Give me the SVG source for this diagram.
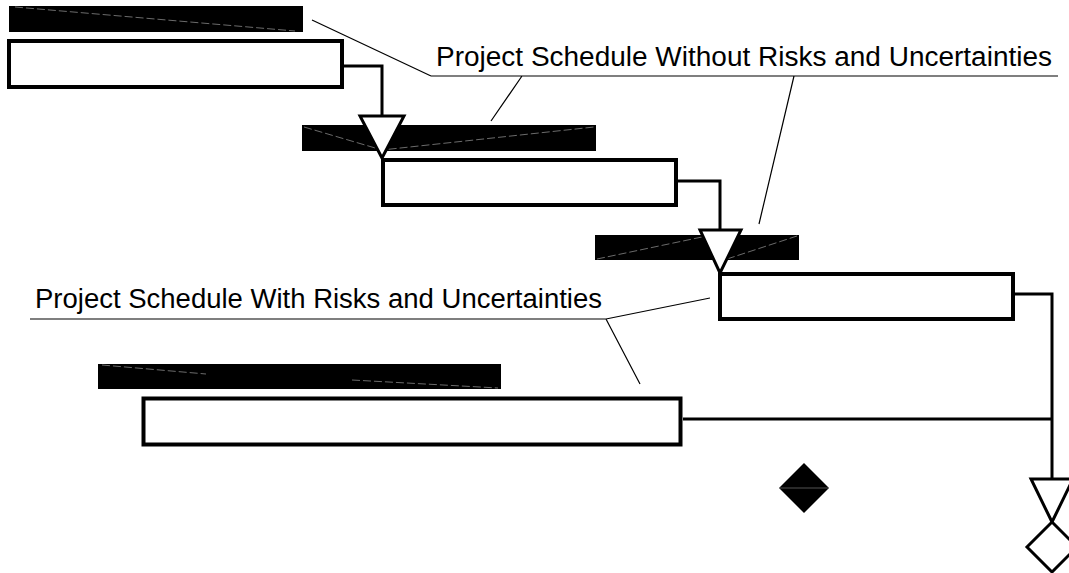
<svg xmlns="http://www.w3.org/2000/svg" width="1069" height="573" viewBox="0 0 1069 573">
<style>
.bar{fill:#000}
.seam{stroke:#999;stroke-width:0.7;stroke-dasharray:8 3;fill:none}
.box{fill:#fff;stroke:#000;stroke-width:4}
.conn{fill:none;stroke:#000;stroke-width:3}
.tri{fill:#fff;stroke:#000;stroke-width:3;stroke-linejoin:miter}
.thin{fill:none;stroke:#000;stroke-width:1.2}
.lbl{font-family:"Liberation Sans",Arial,sans-serif;font-size:27px;fill:#000}
</style>
<rect width="1069" height="573" fill="#fff"/>
<g id="bars">
  <g id="bar1"><rect class="bar" x="9" y="6" width="294" height="26"/><path class="seam" d="M15 7 L295 31"/></g>
  <g id="bar2"><rect class="bar" x="302" y="125" width="294" height="26"/><path class="seam" d="M304 127 L382 150 L594 127"/></g>
  <g id="bar3"><rect class="bar" x="595" y="235" width="204" height="25"/><path class="seam" d="M597 259 L702 237 M727 259 L797 236"/></g>
  <g id="bar4"><rect class="bar" x="98" y="364" width="403" height="25"/><path class="seam" d="M102 365 L206 374 M352 380 L498 388"/></g>
</g>
<g id="connectors">
  <path class="conn" d="M344 66 H382 V116"/>
  <path class="conn" d="M677 181 H720 V230"/>
  <path class="conn" d="M1015 294 H1052 V479"/>
  <path class="conn" d="M683 419 H1052"/>
</g>
<g id="task1"><rect class="box" x="9" y="41" width="333" height="46"/></g>
<g id="task2"><rect class="box" x="383" y="160" width="293" height="45"/></g>
<g id="task3"><rect class="box" x="720" y="274" width="293" height="45"/></g>
<g id="task4"><rect class="box" x="143.5" y="398.5" width="537" height="46"/></g>
<g id="milestone1"><polygon class="tri" points="360,116 404,116 382,158"/></g>
<g id="milestone2"><polygon class="tri" points="700,230 741,230 720,273"/></g>
<g id="milestone3"><polygon class="tri" points="1031,479 1073,479 1052,522"/></g>
<g id="milestone4"><polygon class="tri" points="1052,522 1077,547 1052,572 1027,547"/></g>
<g id="milestone5"><polygon fill="#000" points="804,463 829,488 804,513 779,488"/><path d="M780 488 H828" stroke="#777" stroke-width="0.7"/></g>
<g id="label-without">
  <text class="lbl" x="436" y="66" textLength="616" lengthAdjust="spacingAndGlyphs">Project Schedule Without Risks and Uncertainties</text>
  <path class="thin" d="M431 76 H1058 M312 20 L431 76 M522 76 L491 121 M794 76 L759 224"/>
</g>
<g id="label-with">
  <text class="lbl" x="35" y="308" textLength="567" lengthAdjust="spacingAndGlyphs">Project Schedule With Risks and Uncertainties</text>
  <path class="thin" d="M30 319 H606 M606 319 L710 298 M606 319 L640 384"/>
</g>
</svg>
